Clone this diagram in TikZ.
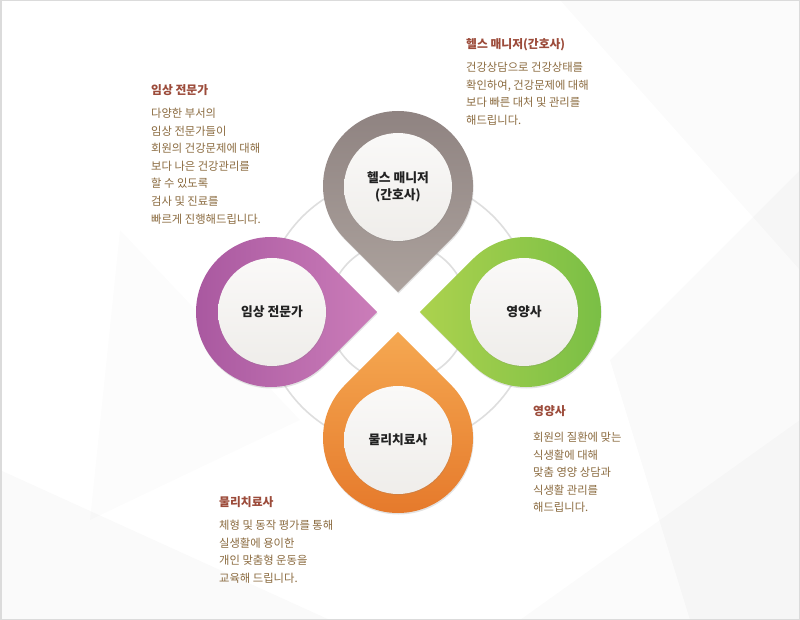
\documentclass[tikz,border=0pt]{standalone}
\usepackage{fontspec}
\setmainfont{Noto Sans CJK KR}
\usetikzlibrary{calc,shadows}
\definecolor{titlec}{HTML}{9C4B3A}
\definecolor{bodyc}{HTML}{8B6B40}
\definecolor{labelc}{HTML}{222222}
\definecolor{ringc}{HTML}{DEDEDE}
\definecolor{grayA}{HTML}{8E8280}
\definecolor{grayB}{HTML}{ACA29D}
\definecolor{purpA}{HTML}{A8579F}
\definecolor{purpB}{HTML}{CB7DB9}
\definecolor{greenA}{HTML}{ACD24E}
\definecolor{greenB}{HTML}{78BE45}
\definecolor{oranA}{HTML}{F5A851}
\definecolor{oranB}{HTML}{E5782A}
\definecolor{innerA}{HTML}{FAF9F8}
\definecolor{innerB}{HTML}{EFEDEA}
\newcommand\pinpath[2]{($(#1)+({#2+45}:75)$) arc[start angle={#2+45}, end angle={#2+315}, radius=75] -- ($(#1)+({#2}:106.07)$) -- cycle}
\tikzset{
  facet/.style={fill=black, draw=none},
  bgline/.style={draw=ringc, line width=1.6pt},
  pinbody/.style={draw=none, drop shadow={shadow xshift=0.6pt, shadow yshift=-1.5pt, opacity=0.22}},
  innercirc/.style={circle, minimum size=108pt, inner sep=0pt, top color=innerA, bottom color=innerB,
     drop shadow={shadow xshift=0.5pt, shadow yshift=-1pt, opacity=0.2},
     text=labelc, font=\bfseries\fontsize{12.8}{17.5}\selectfont, align=center},
  titletext/.style={anchor=west, inner sep=0pt, text=titlec, font=\bfseries\fontsize{11.8}{14}\selectfont},
  bodytext/.style={anchor=north west, inner sep=0pt, text=bodyc, align=left, font=\fontsize{11.3}{17.6}\selectfont},
}
\begin{document}
\begin{tikzpicture}[x=1pt,y=-1pt]
\useasboundingbox (0,0) rectangle (800,620);
\fill[white] (0,0) rectangle (800,620);
% faint background facets
\fill[facet, opacity=0.014] (560,0) -- (800,0) -- (800,270) -- cycle;
\fill[facet, opacity=0.018] (610,360) -- (800,170) -- (800,620) -- (690,620) -- cycle;
\fill[facet, opacity=0.014] (520,620) -- (800,420) -- (800,620) -- cycle;
\fill[facet, opacity=0.018] (0,470) -- (330,620) -- (0,620) -- cycle;
\fill[facet, opacity=0.012] (120,230) -- (300,420) -- (90,520) -- cycle;
% frame
\draw[black!14, line width=1.5pt] (0.75,0.75) rectangle (799.25,619.25);
% background rings
\draw[bgline] (398,312) circle[radius=135];
\draw[bgline] (398,312) circle[radius=70];
% pins
\path[pinbody, top color=grayA, bottom color=grayB] \pinpath{398,186}{90};
\path[pinbody, left color=purpA, right color=purpB] \pinpath{271,312}{0};
\path[pinbody, left color=greenA, right color=greenB] \pinpath{526,312}{180};
\path[pinbody, top color=oranA, bottom color=oranB] \pinpath{398,438}{270};
% inner circles
\node[innercirc] (nurse) at (398,187) {헬스 매니저\\(간호사)};
\node[innercirc] (clinic) at (272,312) {임상 전문가};
\node[innercirc] (diet) at (524,312) {영양사};
\node[innercirc] (physio) at (398,440) {물리치료사};
% annotations
\node[titletext] (nurseT) at (466,45) {헬스 매니저(간호사)};
\node[bodytext] (nurseB) at (466,62) {건강상담으로 건강상태를\\확인하여, 건강문제에 대해\\보다 빠른 대처 및 관리를\\해드립니다.};
\node[titletext] (clinicT) at (151,90) {임상 전문가};
\node[bodytext] (clinicB) at (151,108) {다양한 부서의\\임상 전문가들이\\회원의 건강문제에 대해\\보다 나은 건강관리를\\할 수 있도록\\검사 및 진료를\\빠르게 진행해드립니다.};
\node[titletext] (dietT) at (533,411) {영양사};
\node[bodytext] (dietB) at (533,432) {회원의 질환에 맞는\\식생활에 대해\\맞춤 영양 상담과\\식생활 관리를\\해드립니다.};
\node[titletext] (physioT) at (219,502) {물리치료사};
\node[bodytext] (physioB) at (219,520) {체형 및 동작 평가를 통해\\실생활에 용이한\\개인 맞춤형 운동을\\교육해 드립니다.};
\end{tikzpicture}
\end{document}
